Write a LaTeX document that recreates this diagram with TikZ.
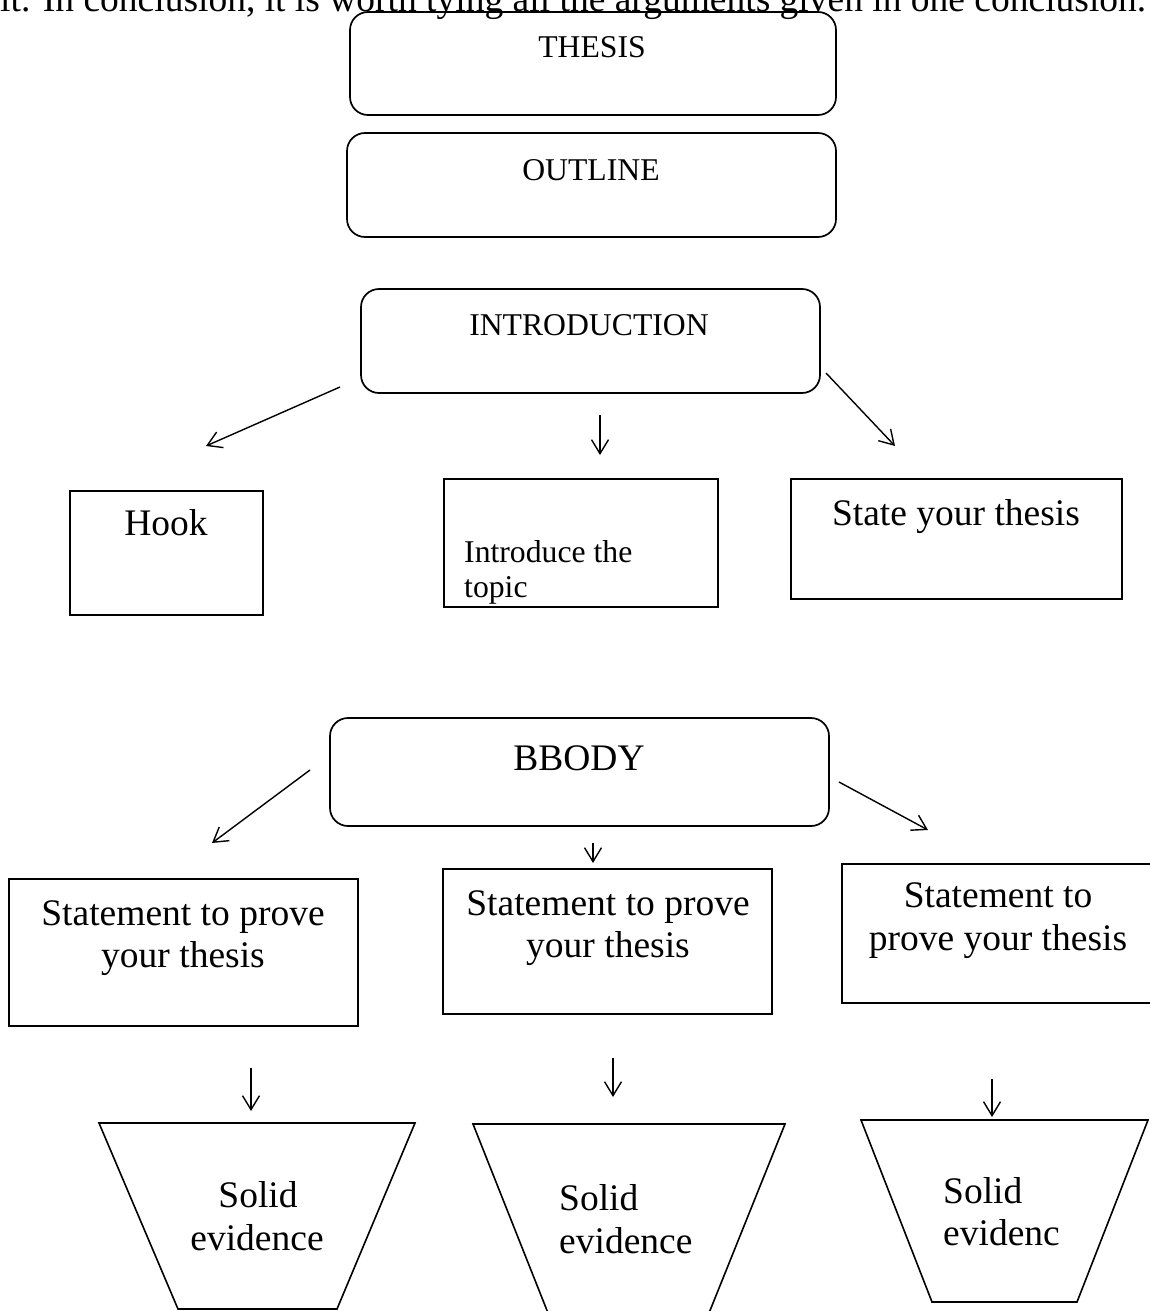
\documentclass[tikz,border=0pt]{standalone}
\usepackage{fontspec}
\setmainfont{Liberation Serif}
\usetikzlibrary{arrows.meta}
\begin{document}
\begin{tikzpicture}[x=1pt,y=-1pt,
  rbox/.style={draw, line width=1.7pt, rounded corners=18pt, inner sep=0pt, outer sep=0pt, anchor=north west},
  sbox/.style={draw, line width=1.8pt, inner sep=0pt, outer sep=0pt, anchor=north west},
  trap/.style={draw, line width=1.6pt, line join=miter},
  big/.style={font=\fontsize{37.5}{42}\selectfont, inner sep=0pt, anchor=base},
  small/.style={font=\fontsize{31.7}{35}\selectfont, inner sep=0pt, anchor=base},
  arr/.style={line width=1.4pt, -{Straight Barb[length=14pt,width=17pt,line width=1.4pt]}}]

\useasboundingbox (0,0) rectangle (1150,1311);

% last line of the preceding paragraph
\node[big, anchor=base west] (para) at (0,11.5)
  {it. In conclusion, it is worth tying all the arguments given in one conclusion.};

% rounded section boxes
\node[rbox, minimum width=486pt, minimum height=103pt] (thesis) at (350,12) {};
\node[rbox, minimum width=489pt, minimum height=104pt] (outline) at (347,133) {};
\node[rbox, minimum width=459pt, minimum height=104pt] (intro) at (361,289) {};
\node[rbox, minimum width=499pt, minimum height=108pt] (body) at (330,718) {};

\node[small] (thesisT) at (592,58) {THESIS};
\node[small] (outlineT) at (591,180) {OUTLINE};
\node[small] (introT) at (589,335) {INTRODUCTION};
\node[big] (bodyT) at (579,770) {BBODY};

% introduction parts
\node[sbox, minimum width=193pt, minimum height=124pt] (hook) at (70,491) {};
\node[sbox, minimum width=274pt, minimum height=128pt] (topic) at (444,479) {};
\node[sbox, minimum width=331pt, minimum height=120pt] (state) at (791,479) {};

\node[big] (hookT) at (166,535) {Hook};
\node[small, anchor=base west] (topicT1) at (464,562) {Introduce the};
\node[small, anchor=base west] (topicT2) at (464,597) {topic};
\node[big] (stateT) at (956,525) {State your thesis};

% body statements
\node[sbox, minimum width=349pt, minimum height=147pt] (stA) at (9,879) {};
\node[sbox, minimum width=329pt, minimum height=145pt] (stB) at (443,869) {};
\node[sbox, minimum width=318pt, minimum height=139pt] (stC) at (842,864) {};

\node[big] (stA1) at (183,925) {Statement to prove};
\node[big] (stA2) at (183,967) {your thesis};
\node[big] (stB1) at (608,915) {Statement to prove};
\node[big] (stB2) at (608,957) {your thesis};
\node[big] (stC1) at (998,907) {Statement to};
\node[big] (stC2) at (998,950) {prove your thesis};

% evidence funnels
\draw[trap] (99,1123) coordinate (evA) -- (415,1123) -- (337,1309) -- (178,1309) -- cycle;
\draw[trap] (550,1318) -- (473,1124) coordinate (evB) -- (785,1124) -- (707,1318);
\draw[trap] (861,1120) coordinate (evC) -- (1148,1120) -- (1077,1302) -- (932,1302) -- cycle;

\node[big] (evA1) at (258,1207) {Solid};
\node[big] (evA2) at (257,1250) {evidence};
\node[big, anchor=base west] (evB1) at (559,1210) {Solid};
\node[big, anchor=base west] (evB2) at (559,1253) {evidence};
\node[big, anchor=base west] (evC1) at (943,1203) {Solid};
\node[big, anchor=base west] (evC2) at (943,1245) {evidenc};

% arrow end points
\coordinate (i1s) at (340,387); \coordinate (i1e) at (206,446);
\coordinate (i2s) at (600,415); \coordinate (i2e) at (600,455);
\coordinate (i3s) at (826,373); \coordinate (i3e) at (895,446);
\coordinate (b1s) at (310,770); \coordinate (b1e) at (212,843);
\coordinate (b2s) at (593,843); \coordinate (b2e) at (593,863);
\coordinate (b3s) at (839,782); \coordinate (b3e) at (928,830);
\coordinate (e1s) at (251,1068); \coordinate (e1e) at (251,1111);
\coordinate (e2s) at (613,1058); \coordinate (e2e) at (613,1097);
\coordinate (e3s) at (992,1079); \coordinate (e3e) at (992,1117);

\draw[arr] (i1s) -- (i1e);
\draw[arr] (i2s) -- (i2e);
\draw[arr] (i3s) -- (i3e);
\draw[arr] (b1s) -- (b1e);
\draw[arr] (b2s) -- (b2e);
\draw[arr] (b3s) -- (b3e);
\draw[arr] (e1s) -- (e1e);
\draw[arr] (e2s) -- (e2e);
\draw[arr] (e3s) -- (e3e);
\end{tikzpicture}
\end{document}
